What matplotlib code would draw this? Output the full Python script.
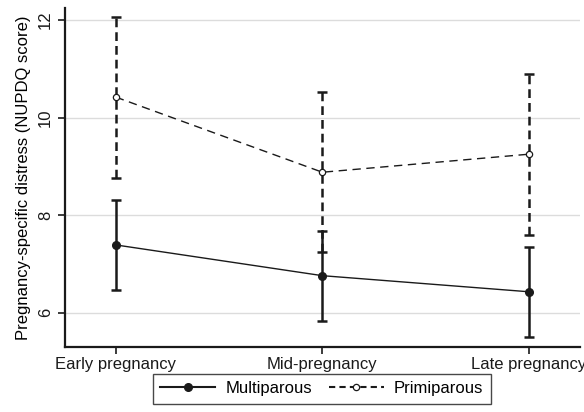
import numpy as np
import matplotlib
matplotlib.use("Agg")
import matplotlib.pyplot as plt
from matplotlib.lines import Line2D

plt.rcParams["font.family"] = ["Liberation Sans", "DejaVu Sans"]

# ---------- datos ----------
etapas = ["Early pregnancy", "Mid-pregnancy", "Late pregnancy"]
multi_media = [7.39, 6.76, 6.43]
multi_inf = [6.47, 5.84, 5.51]
multi_sup = [8.31, 7.68, 7.35]
primi_media = [10.42, 8.88, 9.25]
primi_inf = [8.77, 7.24, 7.60]
primi_sup = [12.07, 10.52, 10.90]

x = np.arange(1, len(etapas) + 1)

fig = plt.figure(figsize=(5.84, 4.12), dpi=100)
ax = fig.add_axes([0.111, 0.158, 0.882, 0.823])

# grid
for v in [6, 8, 10, 12]:
    ax.axhline(v, color="#dcdcdc", lw=1.0, zorder=0)

# Multiparous
m = np.array(multi_media)
ax.errorbar(x, m, yerr=[m - np.array(multi_inf), np.array(multi_sup) - m],
            fmt="none", ecolor="#1a1a1a", elinewidth=1.8, capsize=3.5, capthick=1.8, zorder=2)
ax.plot(x, m, color="#1a1a1a", lw=1.0, marker="o", ms=5.5, mfc="#1a1a1a", mec="#1a1a1a", zorder=3)

# Primiparous
p = np.array(primi_media)
eb2 = ax.errorbar(x, p, yerr=[p - np.array(primi_inf), np.array(primi_sup) - p],
                  fmt="none", ecolor="#1a1a1a", elinewidth=1.8, capsize=3.5, capthick=1.8, zorder=2)
eb2[2][0].set_linestyle((0, (3.5, 2)))
ax.plot(x, p, color="#1a1a1a", lw=1.0, ls=(0, (6, 4)), marker="o", ms=4.5, mfc="white",
        mec="#1a1a1a", mew=0.9, zorder=3)

ax.set_xlim(0.753, 3.247)
ax.set_ylim(5.3, 12.25)
ax.set_xticks(x)
ax.set_xticklabels(etapas, fontsize=12)
ax.set_yticks([6, 8, 10, 12])
ax.set_yticklabels(["6", "8", "10", "12"], fontsize=12, rotation=90, va="center")
ax.set_ylabel("Pregnancy-specific distress (NUPDQ score)", fontsize=12, labelpad=5)

for s in ["top", "right"]:
    ax.spines[s].set_visible(False)
for s in ["left", "bottom"]:
    ax.spines[s].set_linewidth(1.6)
    ax.spines[s].set_color("#1a1a1a")
ax.tick_params(direction="out", length=5, width=1.2, colors="#1a1a1a")
ax.tick_params(axis="x", pad=2)

h1 = Line2D([], [], color="#1a1a1a", lw=1.5, marker="o", ms=5.5)
h2 = Line2D([], [], color="#1a1a1a", lw=1.5, ls=(0, (3, 2)), marker="o", ms=4.5, mfc="white", mew=0.9)
leg = fig.legend([h1, h2], ["Multiparous", "Primiparous"], loc="lower center",
                 bbox_to_anchor=(0.551, 0.0), ncol=2, fontsize=12, frameon=True, fancybox=False,
                 edgecolor="#1a1a1a", handlelength=3.3, handletextpad=0.6, columnspacing=1.0,
                 borderpad=0.45)
leg.get_frame().set_linewidth(1.0)

fig.savefig("out.png", dpi=100)
